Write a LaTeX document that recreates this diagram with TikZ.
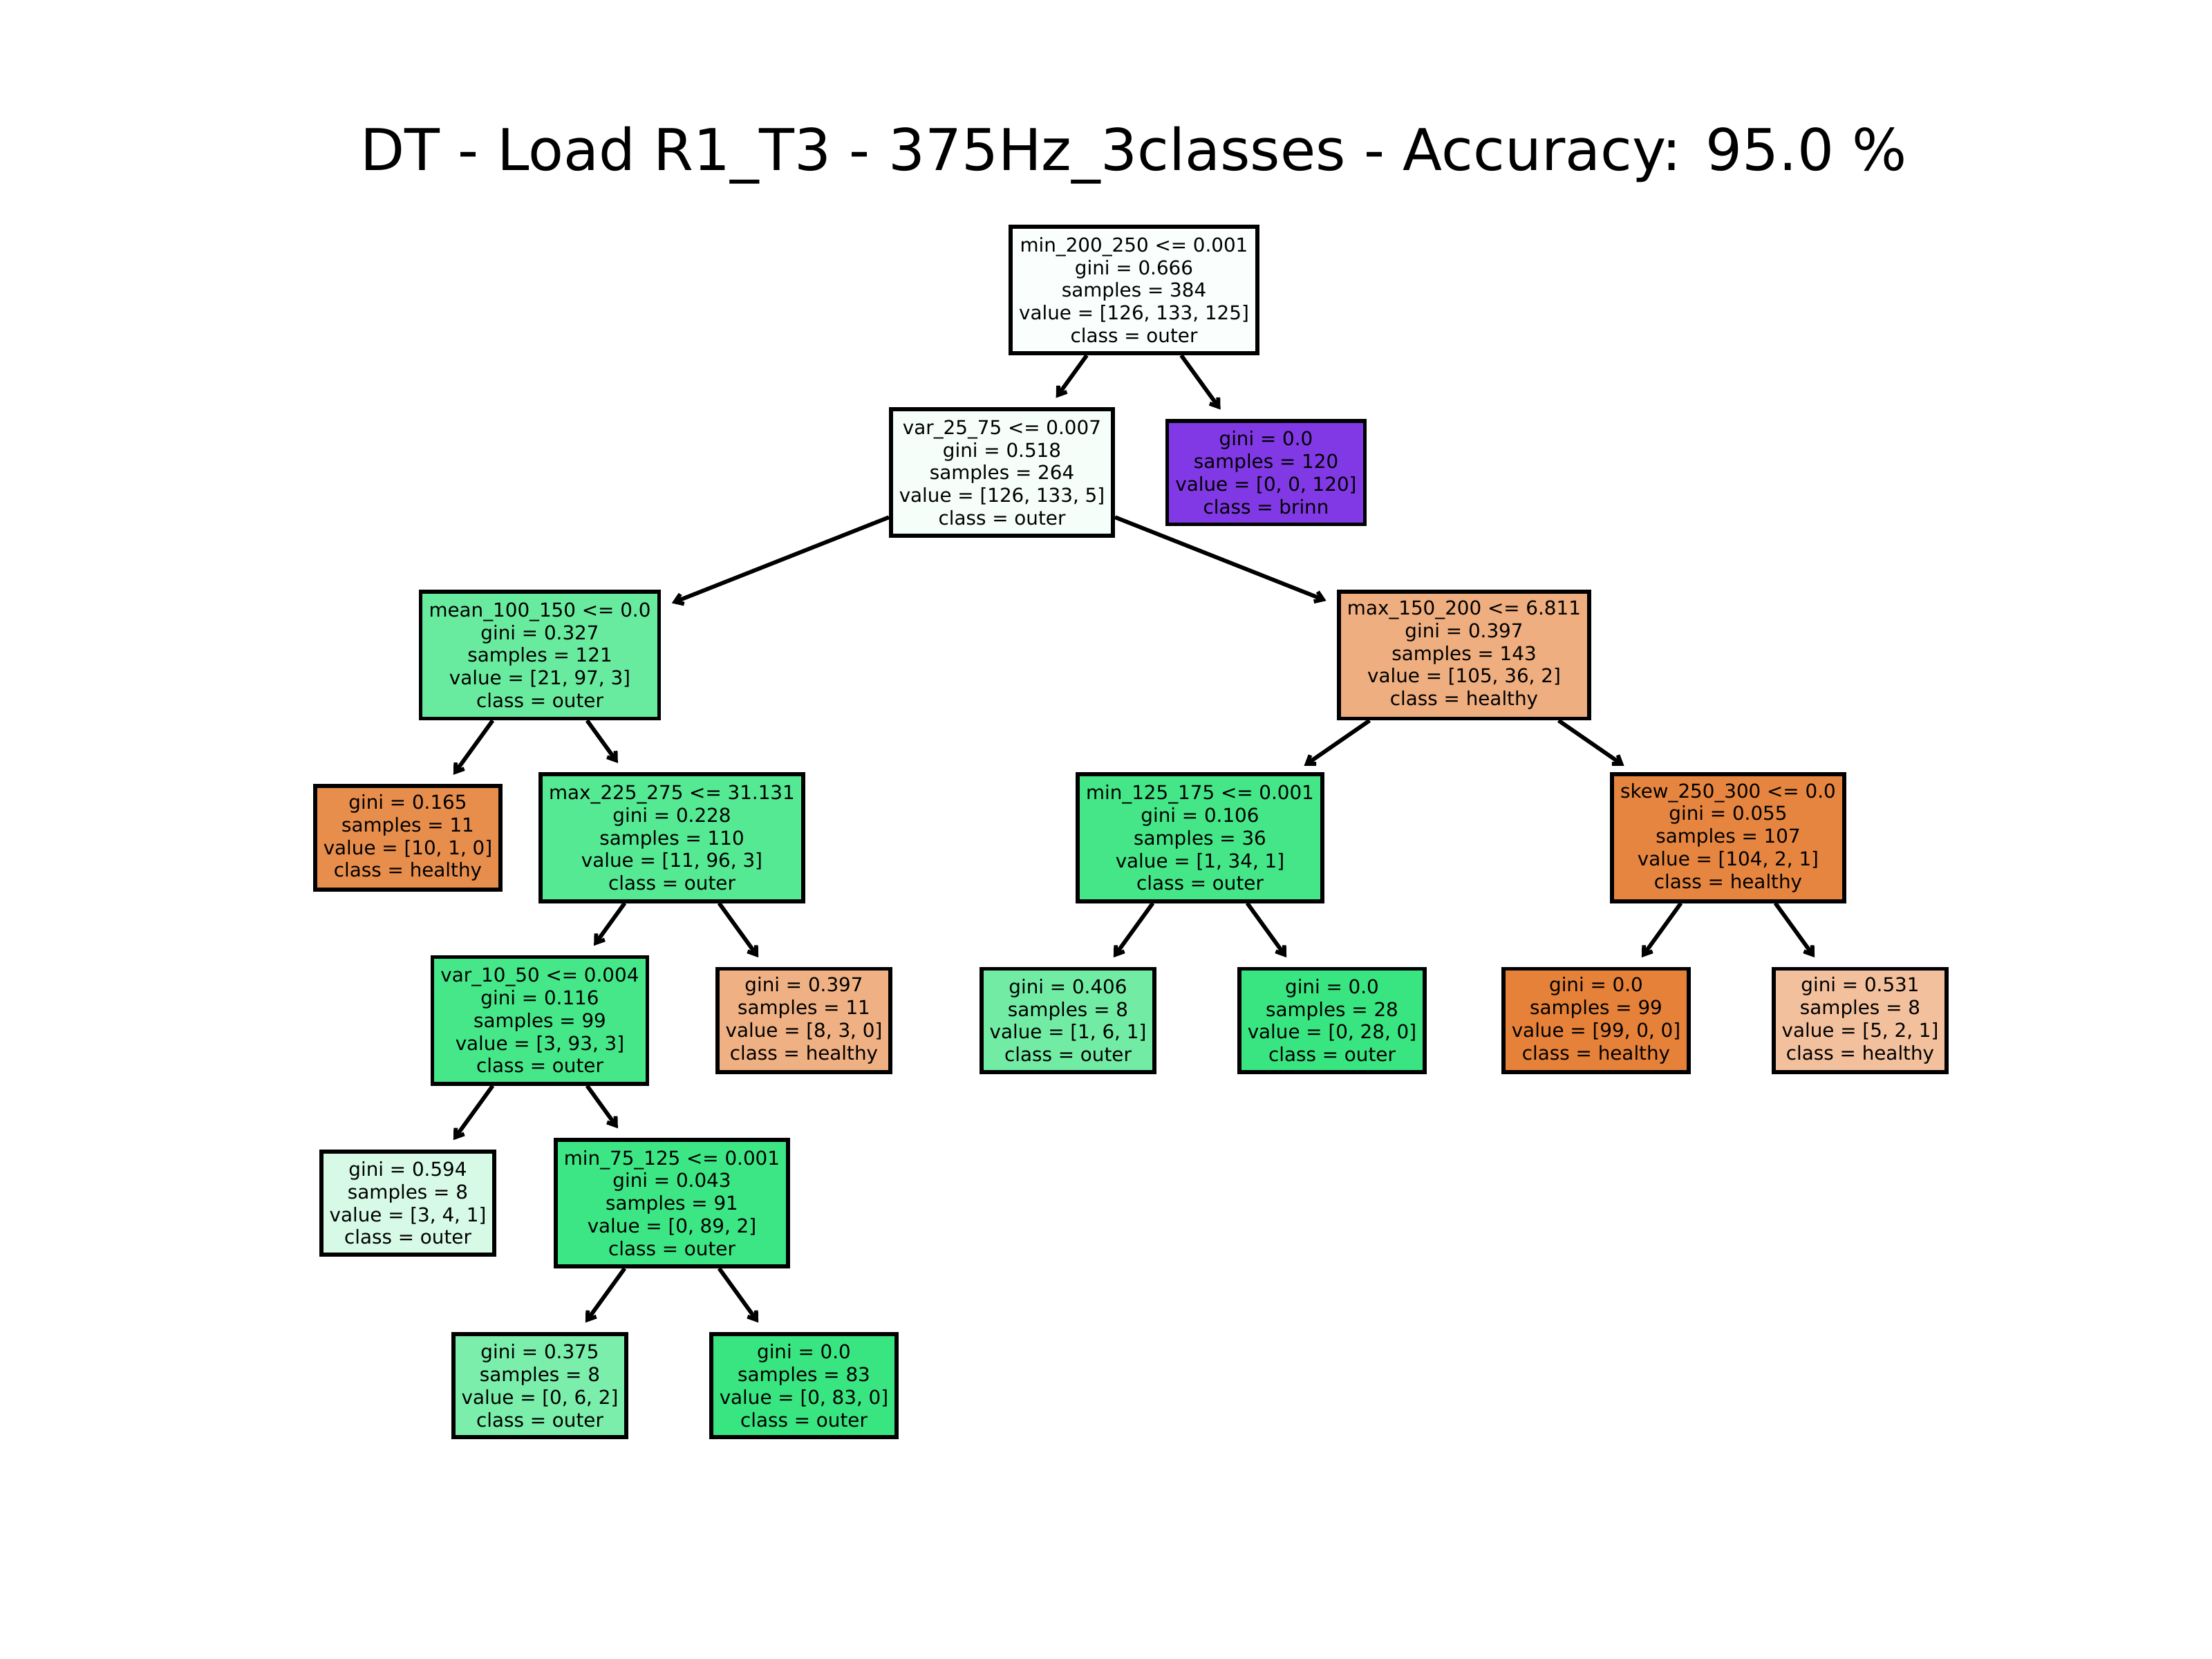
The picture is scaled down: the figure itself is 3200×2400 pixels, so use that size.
\documentclass[tikz,border=0pt]{standalone}
\usepackage{fontspec}
\setmainfont{DejaVu Sans}
\usetikzlibrary{arrows.meta}
\definecolor{cA}{RGB}{250,254,252}
\definecolor{cB}{RGB}{245,254,249}
\definecolor{cC}{RGB}{129,57,229}
\definecolor{cD}{RGB}{105,235,159}
\definecolor{cE}{RGB}{238,174,127}
\definecolor{cF}{RGB}{232,142,77}
\definecolor{cG}{RGB}{85,233,147}
\definecolor{cH}{RGB}{68,230,136}
\definecolor{cI}{RGB}{230,133,63}
\definecolor{cJ}{RGB}{69,231,137}
\definecolor{cK}{RGB}{239,176,131}
\definecolor{cL}{RGB}{114,236,165}
\definecolor{cM}{RGB}{57,229,129}
\definecolor{cN}{RGB}{229,129,57}
\definecolor{cO}{RGB}{242,192,156}
\definecolor{cP}{RGB}{215,250,230}
\definecolor{cQ}{RGB}{61,230,132}
\definecolor{cR}{RGB}{123,238,171}
\begin{document}
\begin{tikzpicture}[x=0.36pt,y=-0.36pt,
  tbox/.style={draw=black,line width=2.1pt,rectangle,align=center,
    font=\fontsize{10}{11.8}\selectfont,inner xsep=4.3pt,inner ysep=1pt},
  split/.style={tbox,minimum height=66pt},
  leaf/.style={tbox,minimum height=53.8pt},
  edge/.style={line width=2.1pt,-{Straight Barb[length=4pt,width=5.5pt]},shorten >=6pt}]
\fill[white] (0,0) rectangle (3200,2400);
\node[anchor=base,inner sep=0pt,font=\fontsize{30}{36}\selectfont] (title) at (1640,247) {DT - Load R1\_T3 - 375Hz\_3classes - Accuracy: 95.0 \%};
% row 0
\node[split,fill=cA] (n1) at (1640.5,419.5) {min\_200\_250 <= 0.001\\gini = 0.666\\samples = 384\\value = [126, 133, 125]\\class = outer};
% row 1
\node[split,fill=cB] (n2) at (1449.5,683.7) {var\_25\_75 <= 0.007\\gini = 0.518\\samples = 264\\value = [126, 133, 5]\\class = outer};
\node[leaf,fill=cC] (n3) at (1831.5,683.7) {gini = 0.0\\samples = 120\\value = [0, 0, 120]\\class = brinn};
% row 2
\node[split,fill=cD] (n4) at (781,947.8) {mean\_100\_150 <= 0.0\\gini = 0.327\\samples = 121\\value = [21, 97, 3]\\class = outer};
\node[split,fill=cE] (n5) at (2118,947.8) {max\_150\_200 <= 6.811\\gini = 0.397\\samples = 143\\value = [105, 36, 2]\\class = healthy};
% row 3
\node[leaf,fill=cF] (n6) at (590,1212) {gini = 0.165\\samples = 11\\value = [10, 1, 0]\\class = healthy};
\node[split,fill=cG] (n7) at (972,1212) {max\_225\_275 <= 31.131\\gini = 0.228\\samples = 110\\value = [11, 96, 3]\\class = outer};
\node[split,fill=cH] (n8) at (1736,1212) {min\_125\_175 <= 0.001\\gini = 0.106\\samples = 36\\value = [1, 34, 1]\\class = outer};
\node[split,fill=cI] (n9) at (2500,1212) {skew\_250\_300 <= 0.0\\gini = 0.055\\samples = 107\\value = [104, 2, 1]\\class = healthy};
% row 4
\node[split,fill=cJ] (n10) at (781,1476.2) {var\_10\_50 <= 0.004\\gini = 0.116\\samples = 99\\value = [3, 93, 3]\\class = outer};
\node[leaf,fill=cK] (n11) at (1163,1476.2) {gini = 0.397\\samples = 11\\value = [8, 3, 0]\\class = healthy};
\node[leaf,fill=cL] (n12) at (1545,1476.2) {gini = 0.406\\samples = 8\\value = [1, 6, 1]\\class = outer};
\node[leaf,fill=cM] (n13) at (1927,1476.2) {gini = 0.0\\samples = 28\\value = [0, 28, 0]\\class = outer};
\node[leaf,fill=cN] (n14) at (2309,1476.2) {gini = 0.0\\samples = 99\\value = [99, 0, 0]\\class = healthy};
\node[leaf,fill=cO] (n15) at (2691,1476.2) {gini = 0.531\\samples = 8\\value = [5, 2, 1]\\class = healthy};
% row 5
\node[leaf,fill=cP] (n16) at (590,1740.4) {gini = 0.594\\samples = 8\\value = [3, 4, 1]\\class = outer};
\node[split,fill=cQ] (n17) at (972,1740.4) {min\_75\_125 <= 0.001\\gini = 0.043\\samples = 91\\value = [0, 89, 2]\\class = outer};
% row 6
\node[leaf,fill=cR] (n18) at (781,2004.5) {gini = 0.375\\samples = 8\\value = [0, 6, 2]\\class = outer};
\node[leaf,fill=cM] (n19) at (1163,2004.5) {gini = 0.0\\samples = 83\\value = [0, 83, 0]\\class = outer};
% edges
\draw[edge] (n1) -- (n2);
\draw[edge] (n1) -- (n3);
\draw[edge] (n2) -- (n4);
\draw[edge] (n2) -- (n5);
\draw[edge] (n4) -- (n6);
\draw[edge] (n4) -- (n7);
\draw[edge] (n5) -- (n8);
\draw[edge] (n5) -- (n9);
\draw[edge] (n7) -- (n10);
\draw[edge] (n7) -- (n11);
\draw[edge] (n8) -- (n12);
\draw[edge] (n8) -- (n13);
\draw[edge] (n9) -- (n14);
\draw[edge] (n9) -- (n15);
\draw[edge] (n10) -- (n16);
\draw[edge] (n10) -- (n17);
\draw[edge] (n17) -- (n18);
\draw[edge] (n17) -- (n19);
\end{tikzpicture}
\end{document}
